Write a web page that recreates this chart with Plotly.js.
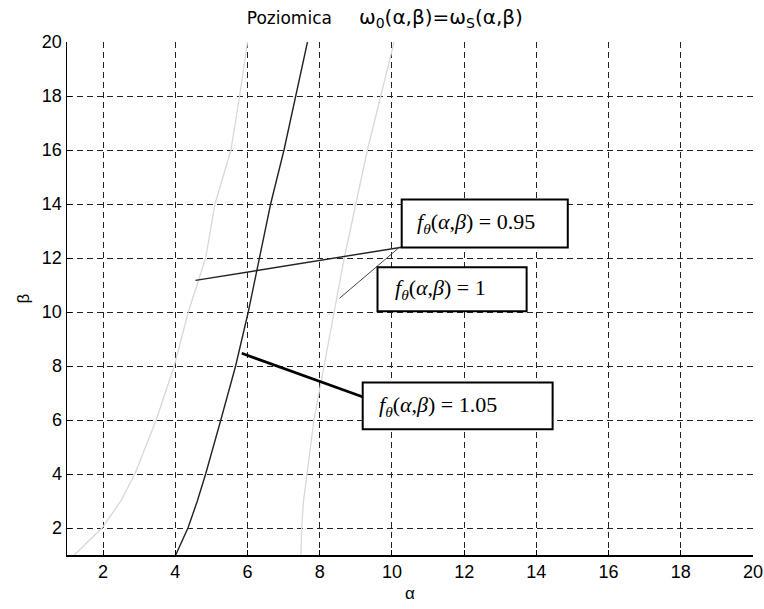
<!DOCTYPE html>
<html>
<head>
<meta charset="utf-8">
<script src="https://cdn.plot.ly/plotly-3.0.1.min.js"></script>
<style>html,body{margin:0;padding:0;background:#fff;}#chart{width:764px;height:609px;}</style>
</head>
<body>
<div id="chart"></div>
<script>
// Level curves f_theta(alpha,beta) = const
const beta = [1, 2, 3, 4, 6, 8, 10, 12, 14, 16, 18, 20];
const alpha095 = [1.20, 1.97, 2.49, 2.88, 3.47, 3.97, 4.36, 4.84, 5.10, 5.54, 5.78, 6.00];
const alpha100 = [7.48, 7.50, 7.55, 7.64, 7.84, 8.12, 8.40, 8.68, 9.00, 9.32, 9.69, 10.06];
const alpha105 = [4.01, 4.35, 4.61, 4.84, 5.26, 5.67, 6.02, 6.32, 6.64, 7.01, 7.34, 7.66];
const xTicks = [2, 4, 6, 8, 10, 12, 14, 16, 18, 20];
const yTicks = [2, 4, 6, 8, 10, 12, 14, 16, 18, 20];
const labels = ['0.95', '1', '1.05'];

const light = '#d8d8d8';
const traces = [
  {x: alpha095, y: beta, mode: 'lines', line: {color: light, width: 1.3}, hoverinfo: 'skip'},
  {x: alpha105, y: beta, mode: 'lines', line: {color: '#222', width: 1.4}, hoverinfo: 'skip'},
  {x: alpha100, y: beta, mode: 'lines', line: {color: light, width: 1.3}, hoverinfo: 'skip'}
];

function lbl(v) {
  return '<i>f</i><sub><i>θ</i></sub>(<i>α</i>,<i>β</i>) = ' + v;
}

const boxes = [
  {x0: 10.27, x1: 14.87, y0: 12.39, y1: 14.17, tx: 10.66, ty: 13.28},
  {x0: 9.60, x1: 13.73, y0: 10.03, y1: 11.66, tx: 10.07, ty: 10.84},
  {x0: 9.19, x1: 14.45, y0: 5.66, y1: 7.39, tx: 9.60, ty: 6.53}
];

const shapes = [
  {type: 'line', xref: 'x', yref: 'y', x0: 4.56, y0: 11.17, x1: 10.27, y1: 12.40, line: {color: '#222', width: 1.4}},
  {type: 'line', xref: 'x', yref: 'y', x0: 8.55, y0: 10.51, x1: 10.21, y1: 12.40, line: {color: '#444', width: 1}},
  {type: 'line', xref: 'x', yref: 'y', x0: 5.84, y0: 8.47, x1: 9.20, y1: 6.85, line: {color: '#000', width: 2.7}}
];
boxes.forEach(b => shapes.push({type: 'rect', xref: 'x', yref: 'y', x0: b.x0, x1: b.x1, y0: b.y0, y1: b.y1,
  line: {color: '#000', width: 2}, fillcolor: '#fff', layer: 'above'}));

const annotations = boxes.map((b, i) => ({
  xref: 'x', yref: 'y', x: b.tx, y: b.ty, xanchor: 'left', yanchor: 'middle',
  text: lbl(labels[i]), showarrow: false, borderpad: 0,
  font: {family: 'Liberation Serif, Times New Roman, serif', size: 22, color: '#000'}
}));

const tickFont = {family: 'Liberation Sans, Arial, sans-serif', size: 18, color: '#000'};
const axisCommon = {
  showgrid: true, gridcolor: '#222', griddash: '6px,4px', gridwidth: 1,
  showline: true, linecolor: '#000', linewidth: 1.5,
  ticks: 'inside', ticklen: 5, tickcolor: '#000', tickwidth: 1,
  zeroline: false, tickfont: tickFont, automargin: false, fixedrange: true
};

const layout = {
  width: 764, height: 609,
  margin: {l: 67, r: 11, t: 42, b: 54},
  paper_bgcolor: '#fff', plot_bgcolor: '#fff',
  showlegend: false,
  title: {
    text: 'Poziomica&nbsp;&nbsp;&nbsp;&nbsp; <span style="font-size:20px">ω<sub>0</sub>(α,β)=ω<sub>S</sub>(α,β)</span>',
    font: {family: 'DejaVu Sans, sans-serif', size: 17, color: '#000'},
    xref: 'container', x: 0.323, xanchor: 'left', yref: 'container', y: 0.97, yanchor: 'middle'
  },
  xaxis: Object.assign({}, axisCommon, {
    range: [1, 20], tickmode: 'array', tickvals: xTicks, ticktext: xTicks.map(String),
    title: {text: 'α', font: {family: 'Liberation Sans, Arial, sans-serif', size: 17, color: '#000'}, standoff: 6}
  }),
  yaxis: Object.assign({}, axisCommon, {
    range: [1, 20], tickmode: 'array', tickvals: yTicks, ticktext: yTicks.map(String),
    title: {text: 'β', font: {family: 'Liberation Sans, Arial, sans-serif', size: 17, color: '#000'}, standoff: 8}
  }),
  shapes: shapes,
  annotations: annotations
};

Plotly.newPlot('chart', traces, layout, {displayModeBar: false, staticPlot: true});
</script>
</body>
</html>
